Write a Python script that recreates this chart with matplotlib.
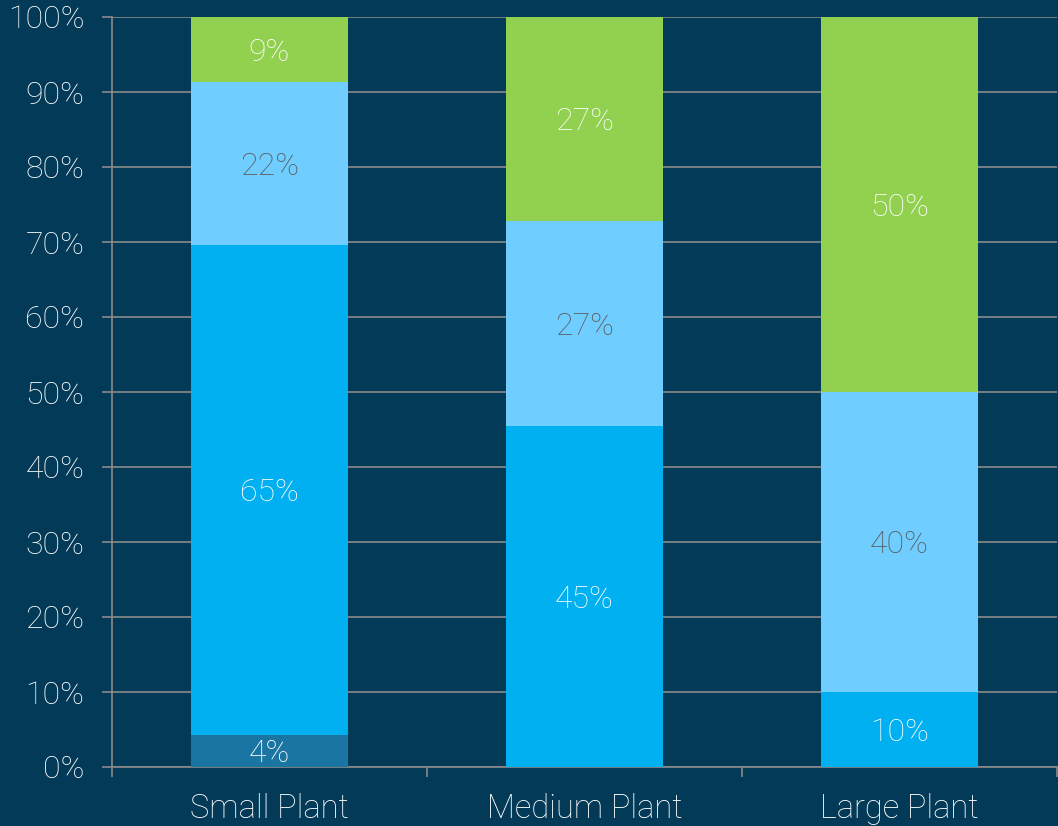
import matplotlib.pyplot as plt
from matplotlib.ticker import PercentFormatter

plt.rcParams['font.family'] = ['Roboto', 'DejaVu Sans']
plt.rcParams['font.weight'] = 'light'

categories = ["Small Plant", "Medium Plant", "Large Plant"]
# segment values (percent), bottom to top
seg1 = [4.3, 0, 0]
seg2 = [65.3, 45.5, 10.0]
seg3 = [21.7, 27.3, 40.0]
seg4 = [8.7, 27.2, 50.0]
labels1 = ["4%", "", ""]
labels2 = ["65%", "45%", "10%"]
labels3 = ["22%", "27%", "40%"]
labels4 = ["9%", "27%", "50%"]

bg = "#023a57"
colors = ["#1b75a3", "#00b0f0", "#6fcdff", "#92d050"]
text_colors = ["white", "white", "#5a5a5a", "white"]

fig = plt.figure(figsize=(10.58, 8.26), dpi=100, facecolor=bg)
ax = fig.add_axes([112 / 1058, 59 / 826, 945 / 1058, 750 / 826], facecolor=bg)

x = list(range(len(categories)))
bottom = [0, 0, 0]
for vals, labs, c, tc in zip([seg1, seg2, seg3, seg4],
                             [labels1, labels2, labels3, labels4],
                             colors, text_colors):
    bars = ax.bar(x, vals, width=0.5, bottom=bottom, color=c, zorder=3)
    for b, v, lab, bt in zip(bars, vals, labs, bottom):
        if v > 0 and lab:
            ax.annotate(lab, (b.get_x() + b.get_width() / 2, bt + v / 2),
                        xytext=(0, -2), textcoords="offset points",
                        ha="center", va="center", color=tc, fontsize=23,
                        zorder=4)
    bottom = [bt + v for bt, v in zip(bottom, vals)]

ax.set_xlim(-0.5, 2.5)
ax.set_ylim(0, 100)
ax.set_yticks(range(0, 101, 10))
ax.yaxis.set_major_formatter(PercentFormatter(decimals=0))
ax.grid(axis="y", color="#8a8a8a", linewidth=1.2, zorder=0)
ax.set_xticks(x)
ax.set_xticklabels(categories)
ax.set_xticks([0.5, 1.5, 2.5, -0.5], minor=True)
ax.tick_params(axis="x", which="major", length=0, pad=19, labelsize=23.5,
               labelcolor="white")
ax.tick_params(axis="x", which="minor", length=7, width=1.2,
               color="#8a8a8a", direction="out")
ax.tick_params(axis="y", length=7, width=1.2, color="#8a8a8a",
               labelsize=23, labelcolor="white", pad=13)
for s in ["top", "right"]:
    ax.spines[s].set_visible(False)
ax.spines["left"].set_color("#8a8a8a")
ax.spines["bottom"].set_color("#8a8a8a")
ax.spines["left"].set_linewidth(1.2)
ax.spines["bottom"].set_linewidth(1.2)

fig.savefig("out.png", dpi=100, facecolor=bg)
